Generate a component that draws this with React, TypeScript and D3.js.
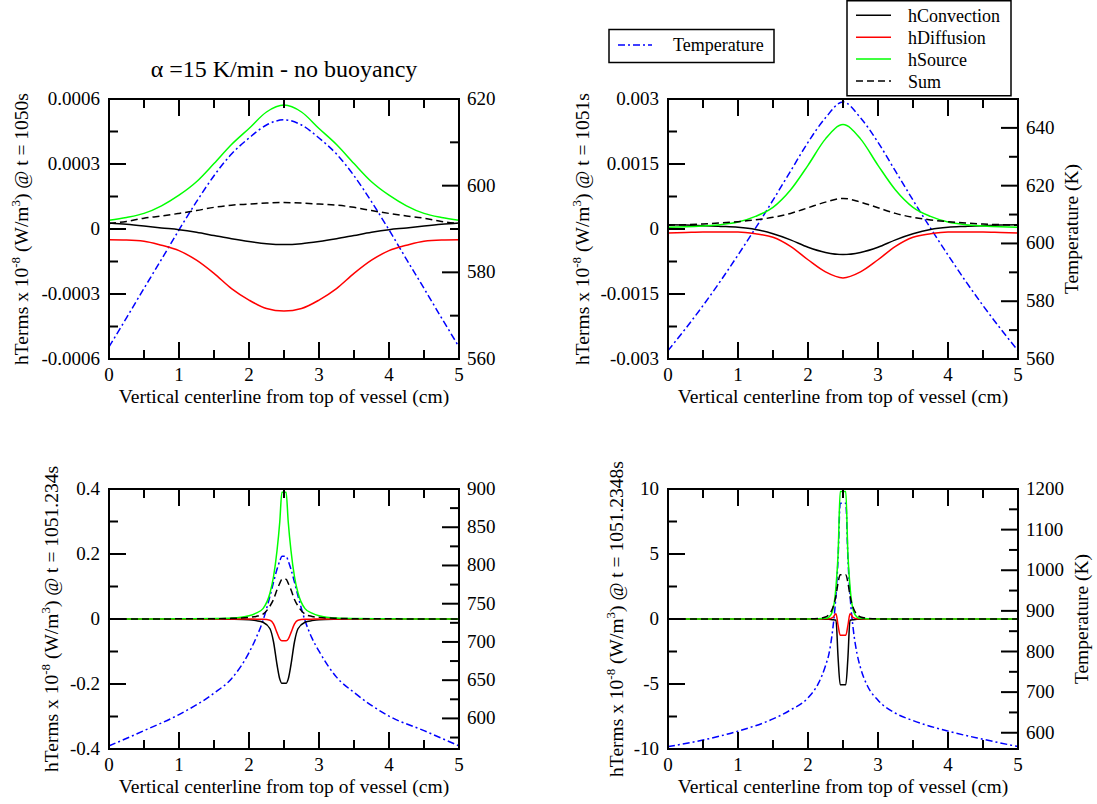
import React from 'react';
import * as d3 from 'd3';

// ---------- shared axis data ----------
const X_TICKS = [0, 1, 2, 3, 4, 5];
const X_TICK_LABELS = ['0', '1', '2', '3', '4', '5'];

// ---------- Panel 1 (t = 1050s) ----------
const P1_X = [0, 0.25, 0.5, 0.75, 1, 1.25, 1.5, 1.75, 2, 2.25, 2.5, 2.75, 3, 3.25, 3.5, 3.75, 4, 4.25, 4.5, 4.75, 5];
const P1_CONV = [0.000028, 0.000022, 0.000014, 0.000005, -0.000003, -0.000015, -0.00003, -0.000045, -0.000058, -0.000068, -0.000072, -0.000068, -0.000058, -0.000045, -0.00003, -0.000015, -0.000003, 0.000005, 0.000014, 0.000022, 0.000028];
const P1_DIFF = [-0.00005, -0.000051, -0.000056, -0.000075, -0.0001, -0.000144, -0.000205, -0.000275, -0.000328, -0.000367, -0.000379, -0.000367, -0.000328, -0.000275, -0.000205, -0.000144, -0.0001, -0.000075, -0.000056, -0.000051, -0.00005];
const P1_SRC = [0.00004, 0.000053, 0.000072, 0.000107, 0.000156, 0.000218, 0.000302, 0.00039, 0.000464, 0.00054, 0.000572, 0.00054, 0.000464, 0.00039, 0.000302, 0.000218, 0.000156, 0.000107, 0.000072, 0.000053, 0.00004];
const P1_SUM = [0.000025, 0.000035, 0.00005, 0.00006, 0.000072, 0.000085, 0.0001, 0.00011, 0.000115, 0.00012, 0.000122, 0.00012, 0.000115, 0.00011, 0.0001, 0.000085, 0.000072, 0.00006, 0.00005, 0.000035, 0.000025];
const P1_TEMP = [562.8, 569.5, 576.3, 583, 589.8, 596.3, 602.3, 607.3, 611, 614, 615.2, 614, 611, 607.3, 602.3, 596.3, 589.8, 583, 576.3, 569.5, 562.8];
const P1_Y_TICKS = [-0.0006, -0.0003, 0, 0.0003, 0.0006];
const P1_Y_LABELS = ['-0.0006', '-0.0003', '0', '0.0003', '0.0006'];
const P1_T_TICKS = [560, 580, 600, 620];
const P1_T_MINOR = [570, 590, 610];

// ---------- Panel 2 (t = 1051s) ----------
const P2_X = [0, 0.25, 0.5, 0.75, 1, 1.25, 1.5, 1.75, 2, 2.25, 2.5, 2.75, 3, 3.25, 3.5, 3.75, 4, 4.25, 4.5, 4.75, 5];
const P2_CONV = [0.0001, 0.00009, 0.000077, 0.00006, 0.00004, -0.00001, -0.00011, -0.00025, -0.00042, -0.00054, -0.00059, -0.00054, -0.00042, -0.00025, -0.00011, -0.00001, 0.00004, 0.00006, 0.000077, 0.00009, 0.0001];
const P2_DIFF = [-0.00009, -0.00008, -0.00007, -0.00007, -0.00007, -0.00011, -0.00019, -0.0004, -0.00071, -0.00099, -0.00113, -0.00099, -0.00071, -0.0004, -0.00019, -0.00011, -0.00007, -0.00007, -0.00007, -0.00008, -0.00009];
const P2_SRC = [0.00004, 0.00005, 0.00007, 0.0001, 0.00016, 0.00029, 0.0005, 0.0009, 0.00147, 0.00208, 0.00241, 0.00208, 0.00147, 0.0009, 0.0005, 0.00029, 0.00016, 0.0001, 0.00007, 0.00005, 0.00004];
const P2_SUM = [0.000085, 0.0001, 0.000115, 0.00014, 0.00017, 0.00021, 0.00027, 0.00036, 0.00049, 0.00062, 0.000706, 0.00062, 0.00049, 0.00036, 0.00027, 0.00021, 0.00017, 0.00014, 0.000115, 0.0001, 0.000085];
const P2_TEMP = [562.9, 570.5, 578.5, 587, 596, 605.3, 615, 625, 635, 643.5, 649, 643.5, 635, 625, 615, 605.3, 596, 587, 578.5, 570.5, 562.9];
const P2_Y_TICKS = [-0.003, -0.0015, 0, 0.0015, 0.003];
const P2_Y_LABELS = ['-0.003', '-0.0015', '0', '0.0015', '0.003'];
const P2_T_TICKS = [560, 580, 600, 620, 640];
const P2_T_MINOR = [570, 590, 610, 630, 650];

// ---------- Panel 3 (t = 1051.234s) ----------
const P3_X = [0, 0.5, 1, 1.5, 1.75, 2, 2.1, 2.2, 2.3, 2.35, 2.4, 2.44, 2.47, 2.53, 2.56, 2.6, 2.65, 2.7, 2.8, 2.9, 3, 3.25, 3.5, 4, 4.5, 5];
const P3_CONV = [0, 0, 0, 0, -0.0005, -0.002, -0.005, -0.01, -0.03, -0.07, -0.14, -0.185, -0.198, -0.198, -0.185, -0.14, -0.07, -0.03, -0.01, -0.005, -0.002, -0.0005, 0, 0, 0, 0];
const P3_DIFF = [0, 0, 0, 0, 0, 0, -0.0005, -0.001, -0.004, -0.015, -0.042, -0.062, -0.067, -0.067, -0.062, -0.042, -0.015, -0.004, -0.001, -0.0005, 0, 0, 0, 0, 0, 0];
const P3_SRC = [0, 0, 0.0005, 0.0015, 0.003, 0.01, 0.018, 0.032, 0.08, 0.13, 0.21, 0.3, 0.39, 0.39, 0.3, 0.21, 0.13, 0.08, 0.032, 0.018, 0.01, 0.003, 0.0015, 0.0005, 0, 0];
const P3_SUM = [0, 0, 0.0005, 0.001, 0.002, 0.005, 0.008, 0.015, 0.04, 0.06, 0.09, 0.11, 0.122, 0.122, 0.11, 0.09, 0.06, 0.04, 0.015, 0.008, 0.005, 0.002, 0.001, 0.0005, 0, 0];
const P3_TEMP = [564, 584, 605, 633, 652, 686, 705, 728, 760, 778, 795, 806, 812, 812, 806, 795, 778, 760, 728, 705, 688, 654, 634, 603, 584, 564];
const P3_Y_TICKS = [-0.4, -0.2, 0, 0.2, 0.4];
const P3_Y_LABELS = ['-0.4', '-0.2', '0', '0.2', '0.4'];
const P3_T_TICKS = [600, 650, 700, 750, 800, 850, 900];
const P3_T_MINOR = [575, 625, 675, 725, 775, 825, 875];

// ---------- Panel 4 (t = 1051.2348s) ----------
const P4_X = [0, 0.5, 1, 1.5, 1.75, 2, 2.15, 2.25, 2.3, 2.35, 2.4, 2.43, 2.46, 2.54, 2.57, 2.6, 2.65, 2.7, 2.75, 2.85, 3, 3.25, 3.5, 4, 4.5, 5];
const P4_CONV = [0, 0, 0, 0, 0, 0, 0, -0.01, -0.02, -0.05, -0.1, -3.0, -5.05, -5.05, -3.0, -0.1, -0.05, -0.02, -0.01, 0, 0, 0, 0, 0, 0, 0];
const P4_DIFF = [0, 0, 0, 0, 0, 0, 0, 0.01, 0.02, 0.1, 0.4, -0.5, -1.25, -1.25, -0.5, 0.4, 0.1, 0.02, 0.01, 0, 0, 0, 0, 0, 0, 0];
const P4_SRC = [0, 0, 0, 0, 0, 0, 0.01, 0.05, 0.15, 0.6, 2.5, 5, 9.8, 9.8, 5, 2.5, 0.6, 0.15, 0.05, 0.01, 0, 0, 0, 0, 0, 0];
const P4_SUM = [0, 0, 0, 0, 0, 0.01, 0.05, 0.15, 0.35, 0.8, 1.8, 2.8, 3.4, 3.4, 2.8, 1.8, 0.8, 0.35, 0.15, 0.05, 0.01, 0, 0, 0, 0, 0];
const P4_TEMP = [566, 582, 604, 634, 656, 686, 722, 765, 795, 850, 940, 1030, 1165, 1165, 1030, 940, 850, 795, 760, 715, 680, 648, 630, 604, 584, 566];
const P4_Y_TICKS = [-10, -5, 0, 5, 10];
const P4_Y_LABELS = ['-10', '-5', '0', '5', '10'];
const P4_T_TICKS = [600, 700, 800, 900, 1000, 1100, 1200];
const P4_T_MINOR = [650, 750, 850, 950, 1050, 1150];

const LEGEND_NAMES = ['hConvection', 'hDiffusion', 'hSource', 'Sum'];

const C_CONV = '#000000';
const C_DIFF = '#ff0000';
const C_SRC = '#00ff00';
const C_TEMP = '#0000ff';
const DASH_SUM = '7,4';
const DASH_TEMP = '7,3,2,3';
const FONT = "'Liberation Serif', 'Times New Roman', serif";

type PanelProps = {
  x0: number; y0: number; w: number; h: number;
  xs: number[];
  conv: number[]; diff: number[]; src: number[]; sum: number[]; temp: number[];
  yTicks: number[]; yLabels: string[];
  tTicks: number[]; tMinor: number[]; tDomain: [number, number];
  time: string;
  leftLabelX: number;
  rightLabelX?: number;
};

function Panel(p: PanelProps) {
  const { x0, y0, w, h } = p;
  const x = d3.scaleLinear().domain([0, 5]).range([x0, x0 + w]);
  const yMin = p.yTicks[0];
  const yMax = p.yTicks[p.yTicks.length - 1];
  const y = d3.scaleLinear().domain([yMin, yMax]).range([y0 + h, y0]);
  const t = d3.scaleLinear().domain(p.tDomain).range([y0 + h, y0]);
  const mk = (vals: number[], sc: d3.ScaleLinear<number, number>) =>
    d3.line<number>().x((_, i) => x(p.xs[i])).y((d) => sc(d)).curve(d3.curveMonotoneX)(vals) || '';

  const yMinor = p.yTicks.slice(0, -1).map((v, i) => (v + p.yTicks[i + 1]) / 2);
  const xMinor = X_TICKS.slice(0, -1).map((v, i) => (v + X_TICKS[i + 1]) / 2);
  const MAJ = 17;
  const MIN = 9;
  const cy = y0 + h / 2;
  const clipId = `clip-${x0}-${y0}`;

  return (
    <g>
      <defs>
        <clipPath id={clipId}>
          <rect x={x0} y={y0} width={w} height={h} />
        </clipPath>
      </defs>
      <g clipPath={`url(#${clipId})`} fill="none" strokeWidth={1.5}>
        <path d={mk(p.temp, t)} stroke={C_TEMP} strokeDasharray={DASH_TEMP} />
        <path d={mk(p.conv, y)} stroke={C_CONV} />
        <path d={mk(p.diff, y)} stroke={C_DIFF} />
        <path d={mk(p.src, y)} stroke={C_SRC} />
        <path d={mk(p.sum, y)} stroke="#000" strokeDasharray={DASH_SUM} />
      </g>
      <g stroke="#000" strokeWidth={2}>
        {X_TICKS.map((v) => (
          <g key={'xt' + v}>
            <line x1={x(v)} x2={x(v)} y1={y0 + h} y2={y0 + h - MAJ} />
            <line x1={x(v)} x2={x(v)} y1={y0} y2={y0 + MAJ} />
          </g>
        ))}
        {xMinor.map((v) => (
          <g key={'xm' + v}>
            <line x1={x(v)} x2={x(v)} y1={y0 + h} y2={y0 + h - MIN} />
            <line x1={x(v)} x2={x(v)} y1={y0} y2={y0 + MIN} />
          </g>
        ))}
        {p.yTicks.map((v) => (
          <line key={'yt' + v} x1={x0} x2={x0 + MAJ} y1={y(v)} y2={y(v)} />
        ))}
        {yMinor.map((v) => (
          <line key={'ym' + v} x1={x0} x2={x0 + MIN} y1={y(v)} y2={y(v)} />
        ))}
        {p.tTicks.map((v) => (
          <line key={'tt' + v} x1={x0 + w} x2={x0 + w - MAJ} y1={t(v)} y2={t(v)} />
        ))}
        {p.tMinor.map((v) => (
          <line key={'tm' + v} x1={x0 + w} x2={x0 + w - MIN} y1={t(v)} y2={t(v)} />
        ))}
        <rect x={x0} y={y0} width={w} height={h} fill="none" />
      </g>
      <g fontSize={19} fill="#000">
        {X_TICKS.map((v, i) => (
          <text key={'xl' + v} x={x(v)} y={y0 + h + 22} textAnchor="middle">{X_TICK_LABELS[i]}</text>
        ))}
        {p.yTicks.map((v, i) => (
          <text key={'yl' + v} x={x0 - 9} y={y(v) + 6} textAnchor="end">{p.yLabels[i]}</text>
        ))}
        {p.tTicks.map((v) => (
          <text key={'tl' + v} x={x0 + w + 8} y={t(v) + 6} textAnchor="start">{String(v)}</text>
        ))}
      </g>
      <text x={x0 + w / 2} y={y0 + h + 44} fontSize={19.5} textAnchor="middle">
        Vertical centerline from top of vessel (cm)
      </text>
      <text transform={`translate(${p.leftLabelX},${cy}) rotate(-90)`} fontSize={19.5} textAnchor="middle">
        hTerms x 10<tspan dy={-8} fontSize={13}>-8</tspan>
        <tspan dy={8}> (W/m</tspan>
        <tspan dy={-8} fontSize={13}>3</tspan>
        <tspan dy={8}>) @ t = {p.time}</tspan>
      </text>
      {p.rightLabelX !== undefined && (
        <text transform={`translate(${p.rightLabelX},${cy}) rotate(-90)`} fontSize={19.5} textAnchor="middle">
          Temperature (K)
        </text>
      )}
    </g>
  );
}

export default function App() {
  const LX = 109, RX = 668, W = 350, H = 260, TY = 99, BY = 489;
  const legendColors = [C_CONV, C_DIFF, C_SRC, '#000'];
  const legendDash = [undefined, undefined, undefined, DASH_SUM];
  return (
    <svg width={1097} height={804} style={{ position: 'absolute', left: 0, top: 0, background: '#fff' }} fontFamily={FONT}>
      <text x={284} y={77} fontSize={24} textAnchor="middle">α =15 K/min - no buoyancy</text>
      <Panel x0={LX} y0={TY} w={W} h={H} xs={P1_X} conv={P1_CONV} diff={P1_DIFF} src={P1_SRC} sum={P1_SUM} temp={P1_TEMP}
        yTicks={P1_Y_TICKS} yLabels={P1_Y_LABELS} tTicks={P1_T_TICKS} tMinor={P1_T_MINOR} tDomain={[560, 620]}
        time="1050s" leftLabelX={28} />
      <Panel x0={RX} y0={TY} w={W} h={H} xs={P2_X} conv={P2_CONV} diff={P2_DIFF} src={P2_SRC} sum={P2_SUM} temp={P2_TEMP}
        yTicks={P2_Y_TICKS} yLabels={P2_Y_LABELS} tTicks={P2_T_TICKS} tMinor={P2_T_MINOR} tDomain={[560, 650]}
        time="1051s" leftLabelX={589} rightLabelX={1078} />
      <Panel x0={LX} y0={BY} w={W} h={H} xs={P3_X} conv={P3_CONV} diff={P3_DIFF} src={P3_SRC} sum={P3_SUM} temp={P3_TEMP}
        yTicks={P3_Y_TICKS} yLabels={P3_Y_LABELS} tTicks={P3_T_TICKS} tMinor={P3_T_MINOR} tDomain={[560, 900]}
        time="1051.234s" leftLabelX={58} />
      <Panel x0={RX} y0={BY} w={W} h={H} xs={P4_X} conv={P4_CONV} diff={P4_DIFF} src={P4_SRC} sum={P4_SUM} temp={P4_TEMP}
        yTicks={P4_Y_TICKS} yLabels={P4_Y_LABELS} tTicks={P4_T_TICKS} tMinor={P4_T_MINOR} tDomain={[560, 1200]}
        time="1051.2348s" leftLabelX={623} rightLabelX={1088} />

      {/* Temperature legend */}
      <rect x={609} y={29.5} width={165} height={33} fill="#fff" stroke="#000" strokeWidth={1.5} />
      <line x1={618} x2={652} y1={45} y2={45} stroke={C_TEMP} strokeWidth={1.5} strokeDasharray={DASH_TEMP} />
      <text x={673} y={51} fontSize={18}>Temperature</text>

      {/* terms legend */}
      <rect x={847} y={0.75} width={164} height={95} fill="#fff" stroke="#000" strokeWidth={1.5} />
      {LEGEND_NAMES.map((n, i) => {
        const ly = 15.3 + i * 21.9;
        return (
          <g key={n}>
            <line x1={856} x2={891} y1={ly} y2={ly} stroke={legendColors[i]} strokeWidth={1.5} strokeDasharray={legendDash[i]} />
            <text x={908} y={ly + 6.5} fontSize={18}>{n}</text>
          </g>
        );
      })}
    </svg>
  );
}
